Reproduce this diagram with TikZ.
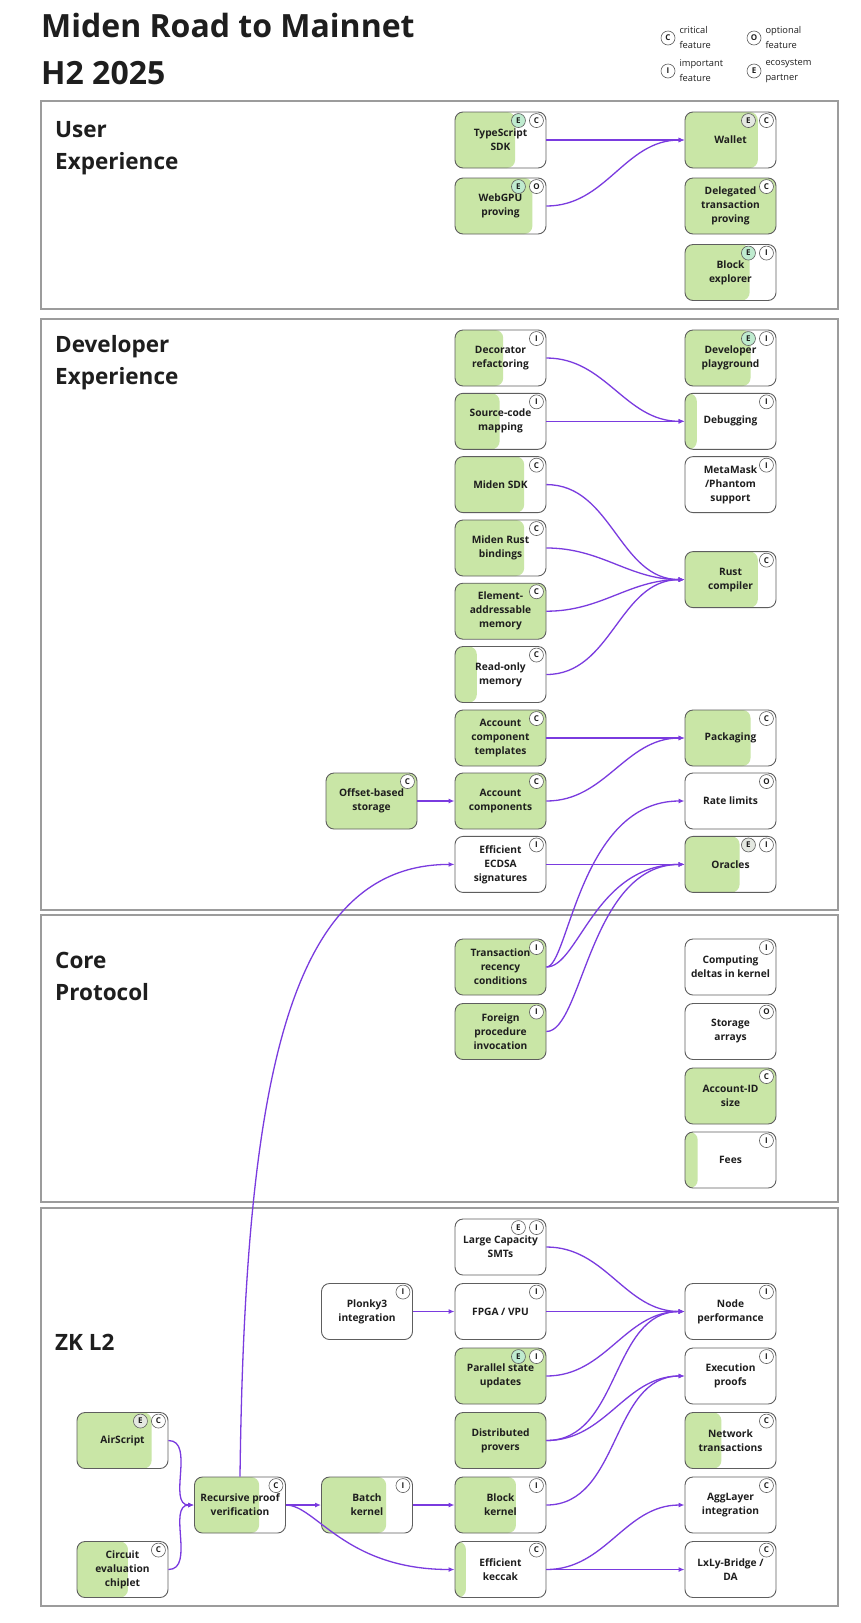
\documentclass[tikz,border=0pt]{standalone}
\usepackage{fontspec}
\setmainfont{Open Sans}
\usetikzlibrary{arrows.meta, positioning, calc}

\definecolor{leaf}{HTML}{C9E6A6}
\definecolor{mint}{HTML}{BFEBCF}
\definecolor{ecogray}{HTML}{E4E8E1}
\definecolor{miden}{HTML}{7A3BDF}
\definecolor{edge}{HTML}{5E5E5E}
\definecolor{frameline}{HTML}{9C9C9C}
\definecolor{ink}{HTML}{1E1E1E}

% feature badges in the top right corner of a box
\newcommand{\badge}[2]{\node[badge] (#1-#2) at ([xshift=-10pt,yshift=-9pt]#1.north east) {#2};}
\newcommand{\eco}[2][mint]{\node[badge, fill=#1] (#2-E) at ([xshift=-28pt,yshift=-9pt]#2.north east) {E};}

\begin{document}
\begin{tikzpicture}[
    x=1pt, y=-1pt,
    box/.style={rectangle, rounded corners=8pt, minimum width=91pt, minimum height=56pt, inner sep=2pt, align=center, draw=edge, line width=0.9pt, fill=white, text=ink, font=\fontsize{10.2}{14}\selectfont\bfseries},
    full/.style={box, fill=leaf},
    part/.style={box, path picture={\fill[leaf] (path picture bounding box.south west) rectangle ($(path picture bounding box.north west)!#1!(path picture bounding box.north east)$);}},
    badge/.style={circle, draw=edge, line width=0.6pt, fill=white, minimum size=14pt, inner sep=0pt, font=\fontsize{8}{8}\selectfont\bfseries, text=ink},
    legend/.style={align=left, inner sep=0pt, font=\fontsize{9.3}{15}\selectfont, text=ink},
    section/.style={anchor=north west, inner sep=0pt, align=left, font=\fontsize{22.5}{32}\selectfont\bfseries, text=ink},
    frame/.style={draw=frameline, line width=1.1pt},
    link/.style={-{Latex[length=6pt,width=5pt]}, draw=miden, line width=1.3pt}
]
    \fill[white] (0,0) rectangle (860,1623);
    \useasboundingbox (0,0) rectangle (860,1623);

    % Title and legend
    \node[anchor=north west, inner sep=0pt, align=left, font=\fontsize{32}{47}\selectfont\bfseries, text=ink] (title) at (41,13) {Miden Road to Mainnet\\H2 2025};
    \node[badge] (leg-C) at (668,38) {C};
    \node[badge] (leg-O) at (754,38) {O};
    \node[badge] (leg-I) at (668,71) {I};
    \node[badge] (leg-E) at (754,71) {E};
    \node[legend, right=4pt of leg-C] (leg-Ct) {critical\\feature};
    \node[legend, right=4pt of leg-O] (leg-Ot) {optional\\feature};
    \node[legend, right=4pt of leg-I] (leg-It) {important\\feature};
    \node[legend, right=4pt of leg-E] (leg-Et) {ecosystem\\partner};

    % Section frames
    \draw[frame] (41,101) rectangle (838,309);
    \draw[frame] (41,319) rectangle (838,910);
    \draw[frame] (41,915) rectangle (838,1202);
    \draw[frame] (41,1208) rectangle (838,1606);
    \node[section] (ux-label) at (55,121) {User\\Experience};
    \node[section] (dx-label) at (55,335) {Developer\\Experience};
    \node[section] (core-label) at (55,952) {Core\\Protocol};
    \node[section] (zk-label) at (55,1334) {ZK L2};

    % User Experience
    \node[part=0.66] (tsdk) at (500.5,140) {TypeScript\\SDK};
    \node[part=0.85] (webgpu) at (500.5,206) {WebGPU\\proving};
    \node[part=0.80] (wallet) at (730.5,140) {Wallet};
    \node[full] (delegated) at (730.5,206) {Delegated\\transaction\\proving};
    \node[part=0.71] (explorer) at (730.5,272.5) {Block\\explorer};

    % Developer Experience
    \node[part=0.53] (decorator) at (500.5,358) {Decorator\\refactoring};
    \node[part=0.49] (sourcemap) at (500.5,421.3) {Source-code\\mapping};
    \node[part=0.76] (midensdk) at (500.5,484.6) {Miden SDK};
    \node[part=0.76] (rustbind) at (500.5,548) {Miden Rust\\bindings};
    \node[full] (elemmem) at (500.5,611.2) {Element-\\addressable\\memory};
    \node[part=0.24] (readonly) at (500.5,674.5) {Read-only\\memory};
    \node[full] (templates) at (500.5,738) {Account\\component\\templates};
    \node[full] (accomp) at (500.5,801) {Account\\components};
    \node[box] (ecdsa) at (500.5,864.4) {Efficient\\ECDSA\\signatures};
    \node[full] (offset) at (371.5,801) {Offset-based\\storage};
    \node[part=0.72] (playground) at (730.5,358) {Developer\\playground};
    \node[part=0.13] (debugging) at (730.5,421.3) {Debugging};
    \node[box] (metamask) at (730.5,484.6) {MetaMask\\/Phantom\\support};
    \node[part=0.80] (rustc) at (730.5,579.6) {Rust\\compiler};
    \node[part=0.72] (packaging) at (730.5,738) {Packaging};
    \node[box] (ratelimits) at (730.5,801) {Rate limits};
    \node[part=0.60] (oracles) at (730.5,864.4) {Oracles};

    % Core Protocol
    \node[full] (recency) at (500.5,967) {Transaction\\recency\\conditions};
    \node[full] (foreign) at (500.5,1031.5) {Foreign\\procedure\\invocation};
    \node[box] (deltas) at (730.5,967) {Computing\\deltas in kernel};
    \node[box] (storarr) at (730.5,1031.5) {Storage\\arrays};
    \node[full] (accid) at (730.5,1096) {Account-ID\\size};
    \node[part=0.14] (fees) at (730.5,1160) {Fees};

    % ZK L2
    \node[box] (smt) at (500.5,1247) {Large Capacity\\SMTs};
    \node[box] (plonky) at (367,1311.5) {Plonky3\\integration};
    \node[box] (fpga) at (500.5,1311.5) {FPGA / VPU};
    \node[full] (parallel) at (500.5,1376) {Parallel state\\updates};
    \node[full] (distrib) at (500.5,1440.5) {Distributed\\provers};
    \node[part=0.67] (blockk) at (500.5,1505) {Block\\kernel};
    \node[part=0.12] (keccak) at (500.5,1569.5) {Efficient\\keccak};
    \node[part=0.82] (airscript) at (122.5,1440.5) {AirScript};
    \node[part=0.56] (circuit) at (122.5,1569.5) {Circuit\\evaluation\\chiplet};
    \node[part=0.71] (recursive) at (240,1505) {Recursive proof\\verification};
    \node[part=0.71] (batch) at (367,1505) {Batch\\kernel};
    \node[box] (nodeperf) at (730.5,1311.5) {Node\\performance};
    \node[box] (execproofs) at (730.5,1376) {Execution\\proofs};
    \node[part=0.40] (nettx) at (730.5,1440.5) {Network\\transactions};
    \node[box] (agglayer) at (730.5,1505) {AggLayer\\integration};
    \node[box] (lxly) at (730.5,1569.5) {LxLy-Bridge /\\DA};

    % Badges
    \eco{tsdk} \badge{tsdk}{C}
    \eco{webgpu} \badge{webgpu}{O}
    \eco[ecogray]{wallet} \badge{wallet}{C}
    \badge{delegated}{C}
    \eco{explorer} \badge{explorer}{I}
    \badge{decorator}{I}
    \badge{sourcemap}{I}
    \badge{midensdk}{C}
    \badge{rustbind}{C}
    \badge{elemmem}{C}
    \badge{readonly}{C}
    \badge{templates}{C}
    \badge{accomp}{C}
    \badge{ecdsa}{I}
    \badge{offset}{C}
    \eco{playground} \badge{playground}{I}
    \badge{debugging}{I}
    \badge{metamask}{I}
    \badge{rustc}{C}
    \badge{packaging}{C}
    \badge{ratelimits}{O}
    \eco[ecogray]{oracles} \badge{oracles}{I}
    \badge{recency}{I}
    \badge{foreign}{I}
    \badge{deltas}{I}
    \badge{storarr}{O}
    \badge{accid}{C}
    \badge{fees}{I}
    \eco[white]{smt} \badge{smt}{I}
    \badge{plonky}{I}
    \badge{fpga}{I}
    \eco{parallel} \badge{parallel}{I}
    \badge{blockk}{I}
    \badge{keccak}{C}
    \eco[ecogray]{airscript} \badge{airscript}{C}
    \badge{circuit}{C}
    \badge{recursive}{C}
    \badge{batch}{I}
    \badge{nodeperf}{I}
    \badge{execproofs}{I}
    \badge{nettx}{C}
    \badge{agglayer}{C}
    \badge{lxly}{C}

    % Connections: user experience
    \draw[link] (tsdk) -- (wallet);
    \draw[link] (webgpu.east) to[out=0,in=180] (wallet.west);

    % Connections: developer experience
    \draw[link] (decorator.east) to[out=0,in=180] (debugging.west);
    \draw[link] (sourcemap) -- (debugging);
    \draw[link] (midensdk.east) to[out=0,in=180] (rustc.west);
    \draw[link] (rustbind.east) to[out=0,in=180] (rustc.west);
    \draw[link] (elemmem.east) to[out=0,in=180] (rustc.west);
    \draw[link] (readonly.east) to[out=0,in=180] (rustc.west);
    \draw[link] (templates) -- (packaging);
    \draw[link] (accomp.east) to[out=0,in=180] (packaging.west);
    \draw[link] (offset) -- (accomp);
    \draw[link] (ecdsa) -- (oracles);

    % Connections: core protocol
    \draw[link] (recency.east) .. controls +(22pt,0pt) and +(-105pt,0pt) .. (ratelimits.west);
    \draw[link] (recency.east) .. controls +(32pt,0pt) and +(-90pt,0pt) .. (oracles.west);
    \draw[link] (foreign.east) .. controls +(36pt,0pt) and +(-95pt,0pt) .. (oracles.west);

    % Connections: ZK L2
    \draw[link] (recursive.north) .. controls +(5pt,400pt) and +(-165pt,0pt) .. (ecdsa.west);
    \draw[link] (smt.east) to[out=0,in=180] (nodeperf.west);
    \draw[link] (fpga) -- (nodeperf);
    \draw[link] (plonky) -- (fpga);
    \draw[link] (parallel.east) to[out=0,in=180] (nodeperf.west);
    \draw[link] (distrib.east) to[out=0,in=180] (nodeperf.west);
    \draw[link] (distrib.east) to[out=0,in=180] (execproofs.west);
    \draw[link] (blockk.east) to[out=0,in=180] (execproofs.west);
    \draw[link] (airscript.east) to[out=0,in=180] (recursive.west);
    \draw[link] (circuit.east) to[out=0,in=180] (recursive.west);
    \draw[link] (recursive) -- (batch);
    \draw[link] (recursive.east) .. controls +(30pt,0pt) and +(-110pt,0pt) .. (keccak.west);
    \draw[link] (batch) -- (blockk);
    \draw[link] (keccak.east) to[out=0,in=180] (agglayer.west);
    \draw[link] (keccak) -- (lxly);

\end{tikzpicture}
\end{document}
